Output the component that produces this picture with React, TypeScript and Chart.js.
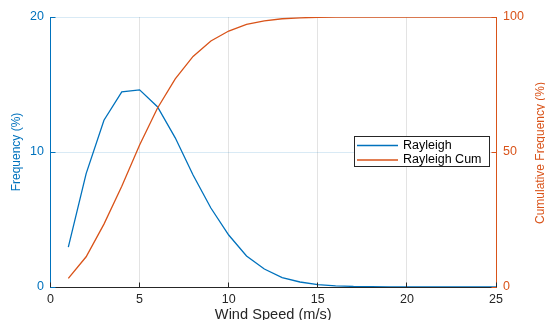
import React, { useEffect, useRef } from "react";
import { Chart, registerables } from "chart.js";

Chart.register(...registerables);

// ---- data ----
const windSpeed = [1, 2, 3, 4, 5, 6, 7, 8, 9, 10, 11, 12, 13, 14, 15, 16, 17, 18, 19, 20, 21, 22, 23, 24, 25];
const rayleigh = [2.95, 8.4, 12.35, 14.45, 14.6, 13.35, 11.05, 8.3, 5.85, 3.85, 2.3, 1.33, 0.7, 0.37, 0.18, 0.09, 0.04, 0.02, 0.01, 0, 0, 0, 0, 0, 0];
const rayleighCum = [3.2, 11.2, 23.3, 37.3, 52.6, 66.2, 77.1, 85.4, 91.1, 94.8, 97.3, 98.6, 99.35, 99.7, 99.88, 99.95, 99.98, 99.99, 100, 100, 100, 100, 100, 100, 100];
const xTicks = [0, 5, 10, 15, 20, 25];
const freqTicks = [0, 10, 20];
const cumTicks = [0, 50, 100];
const seriesNames = ["Rayleigh", "Rayleigh Cum"];
const xTitle = "Wind Speed (m/s)";
const yTitle = "Frequency (%)";
const y1Title = "Cumulative Frequency (%)";

const BLUE = "#0072BD";
const ORANGE = "#D95319";
const DARK = "#262626";
const FONT = "'Liberation Sans', Arial, Helvetica, sans-serif";

const align = (p: number) => Math.round(p - 0.5) + 0.5;

const innerTicks = {
  id: "innerTicks",
  afterDatasetsDraw(chart: any) {
    const { ctx, chartArea, scales } = chart;
    const len = 5;
    ctx.save();
    ctx.lineWidth = 1;
    ctx.strokeStyle = DARK;
    xTicks.forEach((v) => {
      const px = align(scales.x.getPixelForValue(v));
      const by = align(chartArea.bottom);
      ctx.beginPath();
      ctx.moveTo(px, by);
      ctx.lineTo(px, by - len);
      ctx.stroke();
    });
    ctx.strokeStyle = BLUE;
    freqTicks.forEach((v) => {
      const py = align(scales.y.getPixelForValue(v));
      const lx = align(chartArea.left);
      ctx.beginPath();
      ctx.moveTo(lx, py);
      ctx.lineTo(lx + len, py);
      ctx.stroke();
    });
    ctx.strokeStyle = ORANGE;
    cumTicks.forEach((v) => {
      const py = align(scales.y1.getPixelForValue(v));
      const rx = align(chartArea.right);
      ctx.beginPath();
      ctx.moveTo(rx, py);
      ctx.lineTo(rx - len, py);
      ctx.stroke();
    });
    ctx.restore();
  },
};

const boxLegend = {
  id: "boxLegend",
  afterDraw(chart: any) {
    const { ctx, chartArea } = chart;
    const x0 = Math.round(chartArea.right - 142);
    const y0 = Math.round(chartArea.top + 119);
    const w = 135;
    const h = 30;
    ctx.save();
    ctx.fillStyle = "#ffffff";
    ctx.fillRect(x0, y0, w, h);
    ctx.strokeStyle = DARK;
    ctx.lineWidth = 1;
    ctx.strokeRect(x0 + 0.5, y0 + 0.5, w, h);
    chart.data.datasets.forEach((ds: any, i: number) => {
      const ry = y0 + 9.5 + i * 14.5;
      ctx.strokeStyle = ds.borderColor;
      ctx.lineWidth = 1.3;
      ctx.beginPath();
      ctx.moveTo(x0 + 3, ry);
      ctx.lineTo(x0 + 44, ry);
      ctx.stroke();
      ctx.fillStyle = "#000000";
      ctx.font = `12.5px ${FONT}`;
      ctx.textBaseline = "middle";
      ctx.textAlign = "left";
      ctx.fillText(ds.label, x0 + 49, ry);
    });
    ctx.restore();
  },
};

const rightTitle = {
  id: "rightTitle",
  afterDraw(chart: any) {
    const { ctx, chartArea } = chart;
    ctx.save();
    ctx.translate(541, (chartArea.top + chartArea.bottom) / 2 + 1);
    ctx.rotate(-Math.PI / 2);
    ctx.fillStyle = ORANGE;
    ctx.font = `12px ${FONT}`;
    ctx.textAlign = "center";
    ctx.textBaseline = "middle";
    ctx.fillText(y1Title, 0, 0);
    ctx.restore();
  },
};

export default function App() {
  const canvasRef = useRef<HTMLCanvasElement | null>(null);

  useEffect(() => {
    document.body.style.margin = "0";
    const canvas = canvasRef.current;
    if (!canvas) return;
    const chart = new Chart(canvas, {
      type: "line",
      data: {
        datasets: [
          {
            label: seriesNames[0],
            data: windSpeed.map((x, i) => ({ x, y: rayleigh[i] })),
            borderColor: BLUE,
            borderWidth: 1.3,
            pointRadius: 0,
            fill: false,
            tension: 0,
            yAxisID: "y",
            order: 1,
          },
          {
            label: seriesNames[1],
            data: windSpeed.map((x, i) => ({ x, y: rayleighCum[i] })),
            borderColor: ORANGE,
            borderWidth: 1.3,
            pointRadius: 0,
            fill: false,
            tension: 0,
            yAxisID: "y1",
            order: 0,
          },
        ],
      },
      options: {
        responsive: false,
        animation: false,
        layout: { padding: { top: 17, left: 0, right: 0, bottom: 0 } },
        plugins: {
          legend: { display: false },
          tooltip: { enabled: false },
        },
        scales: {
          x: {
            type: "linear",
            min: 0,
            max: 25,
            afterBuildTicks: (s: any) => {
              s.ticks = xTicks.map((v) => ({ value: v }));
            },
            afterFit: (s: any) => {
              s.height = 33;
            },
            grid: {
              color: (c: any) => (c.tick && (c.tick.value === 0 || c.tick.value === 25) ? "rgba(0,0,0,0)" : "#e3e3e3"),
              lineWidth: 1,
              drawTicks: false,
            },
            border: { display: true, color: DARK, width: 1 },
            ticks: {
              color: DARK,
              padding: 5,
              font: { family: FONT, size: 12.5 },
              maxRotation: 0,
              autoSkip: false,
            },
            title: {
              display: true,
              text: xTitle,
              color: DARK,
              font: { family: FONT, size: 14.6 },
              padding: { top: 0, bottom: -3.6 },
            },
          },
          y: {
            type: "linear",
            position: "left",
            min: 0,
            max: 20,
            afterBuildTicks: (s: any) => {
              s.ticks = freqTicks.map((v) => ({ value: v }));
            },
            afterFit: (s: any) => {
              s.width = 50.5;
            },
            grid: {
              color: (c: any) => (c.tick && c.tick.value === 0 ? "rgba(0,0,0,0)" : "rgba(0,114,189,0.15)"),
              lineWidth: 1,
              drawTicks: false,
            },
            border: { display: true, color: BLUE, width: 1 },
            ticks: {
              color: BLUE,
              padding: 6.5,
              font: { family: FONT, size: 12.5 },
            },
            title: {
              display: true,
              text: yTitle,
              color: BLUE,
              font: { family: FONT, size: 12 },
              padding: { top: 9, bottom: 0 },
            },
          },
          y1: {
            type: "linear",
            position: "right",
            min: 0,
            max: 100,
            afterBuildTicks: (s: any) => {
              s.ticks = cumTicks.map((v) => ({ value: v }));
            },
            afterFit: (s: any) => {
              s.width = 49;
            },
            grid: { display: false, drawTicks: false },
            border: { display: true, color: ORANGE, width: 1 },
            ticks: {
              color: ORANGE,
              padding: 7,
              font: { family: FONT, size: 12.5 },
            },
          },
        },
      },
      plugins: [innerTicks, boxLegend, rightTitle],
    } as any);
    return () => chart.destroy();
  }, []);

  return (
    <div style={{ position: "absolute", left: 0, top: 0, width: 545, height: 320, background: "#ffffff" }}>
      <canvas ref={canvasRef} width={545} height={320} style={{ display: "block" }} />
    </div>
  );
}
